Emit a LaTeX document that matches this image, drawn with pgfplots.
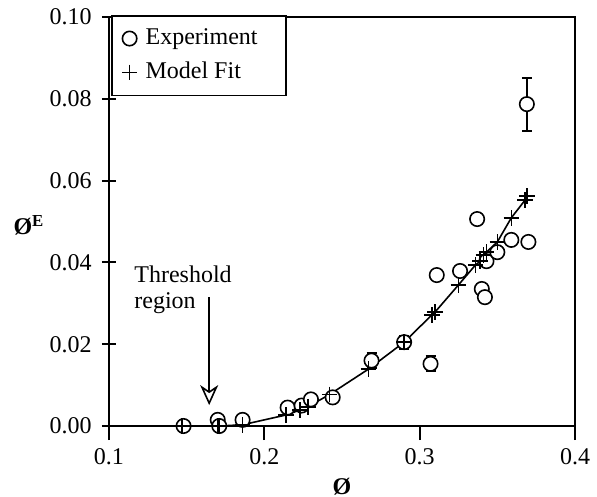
\documentclass[border=0pt]{standalone}
\usepackage{fontspec}
\setmainfont{Liberation Serif}
\usepackage{pgfplots}
\usepackage{pgfplotstable}
\pgfplotsset{compat=1.18}
\usetikzlibrary{arrows.meta}
\pgfplotsset{singlemark/.style={legend image code/.code={\draw[##1] plot coordinates {(0bp,0bp)};}}}

\pgfplotstableread{
x y
0.148 0.0000
0.170 0.0015
0.171 0.0000
0.186 0.0015
0.215 0.0045
0.224 0.0050
0.230 0.0065
0.244 0.0070
0.269 0.0160
0.290 0.0205
0.307 0.0152
0.311 0.0369
0.326 0.0379
0.337 0.0506
0.340 0.0335
0.342 0.0315
0.343 0.0403
0.350 0.0425
0.359 0.0455
0.370 0.0450
0.369 0.0787
}\expdata

\pgfplotstableread{
x y e
0.269 0.0160 0.0018
0.290 0.0205 0.0016
0.307 0.0152 0.0018
0.369 0.0787 0.0065
}\errdata

\pgfplotstableread{
x y
0.147 0.0000
0.170 0.0000
0.171 0.0000
0.186 0.0003
0.214 0.0027
0.223 0.0039
0.228 0.0047
0.242 0.0077
0.267 0.0139
0.290 0.0205
0.308 0.0272
0.310 0.0279
0.325 0.0345
0.336 0.0394
0.339 0.0403
0.341 0.0418
0.343 0.0425
0.350 0.0450
0.359 0.0509
0.368 0.0553
0.369 0.0562
}\modeldata

\begin{document}
\fontsize{12bp}{14bp}\selectfont
\begin{tikzpicture}
\begin{axis}[
  scale only axis, width=233bp, height=204.5bp,
  xmin=0.1, xmax=0.4, ymin=0, ymax=0.1,
  xtick={0.1,0.2,0.3,0.4},
  ytick={0,0.02,0.04,0.06,0.08,0.1},
  axis line style={line width=1bp},
  every tick/.style={black, line width=1bp},
  xtick align=outside, ytick align=center, major tick length=7bp,
  tick pos=left,
  /pgf/number format/assume math mode=true,
  yticklabel style={/pgf/number format/.cd, fixed, fixed zerofill, precision=2, /tikz/xshift=-1bp},
  xticklabel style={/pgf/number format/.cd, fixed, fixed zerofill, precision=1, /tikz/yshift=0bp},
  clip=false,
  xlabel={\bfseries Ø},
  xlabel style={at={(axis description cs:0.5,0)}, anchor=center, yshift=-30.5bp},
  legend style={at={(axis description cs:0,1)}, anchor=north west, xshift=1bp, yshift=1bp,
    draw=black, line width=0.8bp, inner xsep=5bp, inner ysep=3bp, row sep=0bp,
    cells={anchor=west}, nodes={inner xsep=4.1bp, inner ysep=3.5bp}},
]
\coordinate (O) at (axis description cs:0,0);
\coordinate (T) at (axis description cs:1,1);

\addplot[draw=none, mark=none, black, forget plot,
  error bars/.cd, y dir=both, y explicit,
  error mark options={mark size=2.5bp, line width=1bp, rotate=90},
  error bar style={line width=1bp}] table[x=x, y=y, y error=e] {\errdata};

\addplot[only marks, mark=*, mark size=3.6bp, line width=0.8bp, black,
  mark options={fill=white, draw=black}, singlemark] table {\expdata};
\addlegendentry{Experiment\hspace*{5bp}\mbox{}}

\addplot[only marks, mark=+, mark size=3.9bp, line width=0.8bp, black, singlemark] table {\modeldata};
\addlegendentry{Model Fit}

\addplot[black, line width=0.8bp, mark=none, forget plot] table {\modeldata};

\node[anchor=base west, inner sep=0pt] at (axis cs:0.1161,0.0350) {Threshold};
\node[anchor=base west, inner sep=0pt] at (axis cs:0.1161,0.02885) {region};
\draw[line width=0.8bp, -{Stealth[open, width=9bp, length=10bp, inset=3bp]}]
  (axis cs:0.1645,0.0315) -- (axis cs:0.1645,0.0051);

\node[xshift=-40bp] at (axis description cs:0,0.491) {\bfseries Ø\textsuperscript{E}};
\end{axis}
\pgfresetboundingbox
\path ([shift={(-54.5bp,-35.5bp)}]O) rectangle ([shift={(11bp,8.5bp)}]T);
\end{tikzpicture}
\end{document}
